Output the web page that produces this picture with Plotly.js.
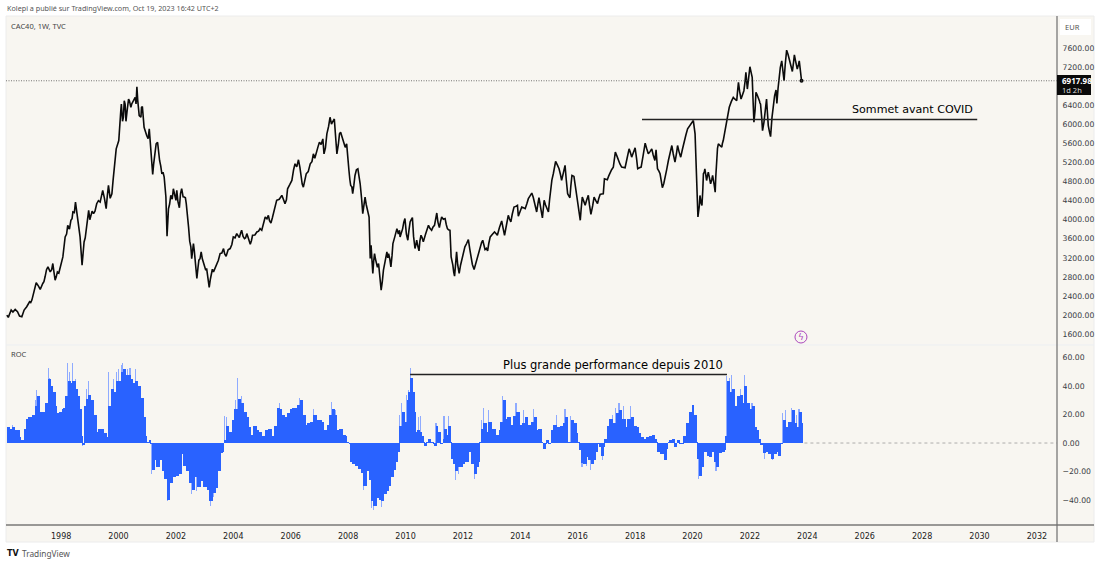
<!DOCTYPE html>
<html>
<head>
<meta charset="utf-8">
<script src="https://cdn.plot.ly/plotly-3.0.1.min.js"></script>
<style>html,body{margin:0;padding:0;background:#fff}#c{width:1100px;height:564px}</style>
</head>
<body>
<div id="c"></div>
<script>
var priceYears = [1996.11,1996.16,1996.26,1996.40,1996.48,1996.55,1996.63,1996.71,1996.80,1996.90,1996.98,1997.06,1997.13,1997.21,1997.27,1997.36,1997.44,1997.54,1997.62,1997.71,1997.79,1997.87,1997.97,1998.06,1998.14,1998.23,1998.34,1998.41,1998.50,1998.58,1998.66,1998.73,1998.80,1998.89,1998.96,1999.03,1999.13,1999.24,1999.36,1999.45,1999.57,1999.65,1999.77,1999.85,1999.92,2000.01,2000.03,2000.08,2000.14,2000.20,2000.26,2000.35,2000.46,2000.58,2000.64,2000.69,2000.78,2000.83,2000.89,2000.98,2001.07,2001.12,2001.19,2001.25,2001.31,2001.36,2001.43,2001.51,2001.59,2001.65,2001.69,2001.74,2001.82,2001.91,2002.00,2002.03,2002.12,2002.20,2002.29,2002.36,2002.44,2002.52,2002.55,2002.61,2002.67,2002.73,2002.80,2002.88,2002.96,2003.04,2003.10,2003.16,2003.23,2003.31,2003.42,2003.54,2003.66,2003.75,2003.89,2004.00,2004.12,2004.21,2004.29,2004.39,2004.47,2004.59,2004.67,2004.82,2004.93,2004.99,2005.11,2005.22,2005.31,2005.40,2005.51,2005.69,2005.80,2005.89,2006.04,2006.15,2006.27,2006.36,2006.44,2006.54,2006.68,2006.79,2006.89,2007.00,2007.12,2007.16,2007.26,2007.37,2007.47,2007.52,2007.61,2007.70,2007.74,2007.84,2007.95,2008.03,2008.09,2008.16,2008.24,2008.34,2008.42,2008.51,2008.59,2008.67,2008.73,2008.77,2008.80,2008.86,2008.92,2008.98,2009.06,2009.15,2009.23,2009.35,2009.41,2009.49,2009.56,2009.70,2009.79,
2009.81,2009.90,2009.98,2010.08,2010.16,2010.24,2010.33,2010.39,2010.47,2010.54,2010.62,2010.80,2010.91,2011.01,2011.09,2011.18,2011.26,2011.38,2011.46,2011.55,2011.59,2011.65,2011.71,2011.78,2011.87,2011.96,2012.07,2012.19,2012.28,2012.39,2012.50,2012.60,2012.69,2012.77,2012.86,2012.95,2013.10,2013.20,2013.35,2013.45,2013.58,2013.67,2013.78,2013.90,2013.93,2014.05,2014.17,2014.28,2014.40,2014.49,2014.57,2014.65,2014.77,2014.83,2014.92,2014.98,2015.06,2015.15,2015.23,2015.35,2015.44,2015.56,2015.65,2015.73,2015.80,2015.87,2015.97,2016.05,2016.09,2016.16,2016.26,2016.37,2016.46,2016.57,2016.69,2016.78,2016.89,2016.93,2017.03,2017.13,2017.24,2017.31,2017.42,2017.53,2017.65,2017.79,2017.88,2018.00,2018.09,2018.21,2018.35,2018.46,2018.58,2018.69,2018.73,2018.78,2018.87,2018.95,2019.04,2019.16,2019.28,2019.39,2019.48,2019.59,2019.71,2019.83,2019.91,2020.03,2020.09,
2020.14,2020.19,2020.26,2020.33,2020.38,2020.43,2020.49,2020.55,2020.63,2020.70,2020.79,2020.84,2020.90,2021.02,2021.07,2021.17,2021.28,2021.42,2021.54,2021.60,2021.69,2021.79,2021.86,2021.91,2022.00,2022.08,2022.14,2022.21,2022.27,2022.33,2022.37,2022.44,2022.53,2022.58,2022.64,2022.72,2022.82,2022.91,2022.94,2023.02,2023.11,2023.19,2023.28,2023.37,2023.48,2023.55,2023.65,2023.72,2023.80];
var priceValues = [1998,1949,2103,2117,2068,1977,1963,2103,2172,2277,2312,2521,2675,2605,2535,2661,2801,3010,2905,3080,2731,2905,3010,3219,3638,3882,3987,4162,4371,4057,3638,3045,3533,3848,4197,4057,4127,4336,4371,4615,4231,4720,4546,5034,5488,5662,5942,6291,6067,6500,6067,6535,6430,6570,6793,6256,6151,6374,5942,5767,5907,5523,4950,5313,5593,5627,5244,4964,4895,4476,3652,4231,4511,4650,4406,4615,4252,4650,4476,4336,3848,3429,3184,3499,3080,2766,3150,3324,3080,2940,2801,2577,2835,2905,3080,3289,3394,3233,3394,3638,3708,3624,3778,3603,3708,3485,3673,3743,3813,3778,4057,4092,3931,4127,4406,4511,4336,4650,4825,5174,5258,4895,4685,4964,5174,5383,5418,5627,5697,5383,5802,6151,6081,6116,5383,5802,5837,5627,5593,5034,4720,4546,4929,5069,4755,4127,4476,4231,4057,3184,3464,2870,3289,3080,3080,2521,2940,3324,3289,3010,3499,3813,3778,
3639,3813,4023,3569,3953,4044,3395,3569,3346,3674,3534,3883,3778,3883,4141,3834,4058,4023,3813,3778,3220,3046,2815,3325,2871,3150,3429,3583,3185,2955,3185,3464,3569,3374,3346,3639,3744,3674,3974,3674,4093,3953,4267,4302,4072,4267,4232,4442,4560,4372,4162,4462,4037,4407,4232,4162,4686,4965,5223,5070,4825,5140,4546,4462,4930,4909,4476,4058,3988,4476,4302,4511,4113,4476,4337,4532,4546,4860,4839,5000,5105,5419,5244,5105,5091,5489,5314,5509,5070,5105,5607,5384,5489,5244,5468,5070,4965,4672,4860,5244,5558,5209,5558,5314,5663,5907,5977,6082,5803,
4964,4057,4510,4301,4964,5069,4824,5000,4755,4929,4580,5383,5592,5522,5662,6011,6360,6569,6500,6883,6534,6709,7093,6744,7212,6988,6046,6674,6604,6500,6430,5871,6255,6534,5976,5746,6500,6723,6444,7058,7337,6918,7561,7372,7114,7463,7163,7337,6917.98];

var priceDetailYears = [1996.32,1996.94,1997.10,1997.40,1997.49,1997.58,1997.67,1997.75,1997.83,1997.92,1998.19,1998.29,1998.38,1998.46,1998.84,1999.00,1999.08,1999.18,1999.30,1999.40,1999.51,1999.61,1999.71,1999.81,2000.05,2000.10,2000.17,2000.23,2000.30,2000.38,2000.43,2000.52,2000.61,2000.67,2000.72,2000.80,2001.03,2001.15,2001.22,2001.39,2001.47,2001.55,2001.78,2001.87,2001.95,2002.07,2002.16,2002.25,2002.33,2002.40,2002.48,2002.58,2002.64,2002.70,2002.77,2002.84,2002.92,2003.00,2003.07,2003.13,2003.20,2003.27,2003.36,2003.48,2003.60,2003.70,2003.82,2003.95,2004.06,2004.17,2004.25,2004.34,2004.43,2004.53,2004.63,2004.75,2004.88,2005.05,2005.17,2005.26,2005.36,2005.46,2005.60,2005.75,2005.85,2005.97,2006.10,2006.21,2006.32,2006.40,2006.49,2006.61,2006.74,2006.84,2006.95,2007.06,2007.21,2007.32,2007.42,2007.57,2007.66,2007.79,2007.90,2007.99,2008.06,2008.13,2008.20,2008.29,2008.38,2008.47,2008.55,2008.63,2008.70,2008.83,2008.89,2008.95,2009.02,2009.10,2009.19,2009.29,2009.38,2009.45,2009.53,2009.63,2009.75,
2009.94,2010.03,2010.12,2010.20,2010.28,2010.36,2010.43,2010.50,2010.58,2010.70,2010.75,2010.85,2010.96,2011.05,2011.13,2011.22,2011.32,2011.42,2011.50,2011.62,2011.68,2011.75,2011.82,2011.92,2012.01,2012.13,2012.24,2012.33,2012.44,2012.55,2012.65,2012.73,2012.82,2012.90,2013.02,2013.15,2013.27,2013.40,2013.52,2013.62,2013.72,2013.84,2013.98,2014.11,2014.23,2014.34,2014.45,2014.53,2014.61,2014.71,2014.80,2014.88,2015.02,2015.10,2015.19,2015.29,2015.40,2015.50,2015.60,2015.69,2015.76,2015.84,2015.92,2016.01,2016.12,2016.21,2016.31,2016.41,2016.52,2016.63,2016.73,2016.83,2016.99,2017.08,2017.18,2017.28,2017.37,2017.47,2017.59,2017.72,2017.84,2017.94,2018.05,2018.15,2018.28,2018.40,2018.52,2018.63,2018.83,2018.91,2019.00,2019.10,2019.22,2019.33,2019.44,2019.53,2019.65,2019.77,2019.87,2019.97,
2020.24,2020.30,2020.36,2020.41,2020.46,2020.52,2020.59,2020.67,2020.75,2020.81,2020.87,2020.96,2021.04,2021.12,2021.22,2021.35,2021.48,2021.57,2021.64,2021.74,2021.83,2021.95,2022.04,2022.11,2022.18,2022.24,2022.30,2022.35,2022.41,2022.49,2022.56,2022.61,2022.68,2022.77,2022.86,2022.98,2023.06,2023.15,2023.23,2023.33,2023.43,2023.52,2023.60,2023.69,2023.76];
var priceDetailValues = [2060,2260,2560,2700,2950,2960,2950,2900,2800,2880,3700,3800,4020,4150,3620,4000,4180,4180,4400,4480,4450,4500,4450,4820,6151,6430,6151,6430,6291,6500,6360,6500,6430,6500,6186,6360,5700,5300,5150,5380,5130,5000,4330,4430,4520,4380,4550,4480,4460,4140,3550,3350,3350,2900,3000,3180,3180,3020,2980,2650,2750,2960,2970,3150,3300,3280,3370,3480,3620,3640,3710,3650,3620,3600,3560,3680,3760,3900,4020,3980,4040,4260,4430,4420,4420,4740,5050,5110,5100,4750,4830,5010,5220,5290,5530,5580,5510,5960,6010,5700,5580,5730,5520,5380,4850,4690,4720,5050,4910,4440,4300,4320,4160,3150,3130,3180,3000,2800,2700,3130,3200,3180,3250,3650,3700,
3950,3700,3780,4000,3650,3470,3440,3550,3620,3700,3800,3820,3850,4010,3950,3960,4010,3900,3790,3150,2900,3100,3050,3050,3290,3500,3380,3060,3070,3320,3520,3470,3400,3500,3690,3710,3830,3820,3900,4020,4120,4280,4170,4250,4340,4500,4470,4260,4320,4250,4220,4310,4420,4830,5100,5150,4950,4980,4850,4500,4700,4920,4700,4250,4220,4390,4410,4310,4290,4400,4440,4540,4850,4920,5050,5260,5330,5170,5100,5290,5400,5410,5290,5090,5350,5500,5430,5360,5020,4820,4760,5050,5400,5380,5380,5430,5480,5780,5940,6030,
4300,4350,4640,5000,4950,4920,4880,4840,4750,4900,5500,5550,5600,5830,6180,6480,6530,6700,6700,6620,6900,7000,7100,6500,6300,6640,6550,6450,6150,6050,6400,6250,5850,6150,6600,6750,7200,7130,7250,7470,7250,7300,7310,7250,7130];

var rocYears = [1996.11,1996.19,1996.28,1996.36,1996.46,1996.53,1996.59,1996.69,1996.77,1996.86,1996.98,1997.09,1997.15,1997.25,1997.33,1997.38,1997.44,1997.54,1997.62,1997.71,1997.79,1997.85,1997.94,1998.02,1998.08,1998.14,1998.23,1998.31,1998.39,1998.49,1998.57,1998.64,1998.71,1998.74,1998.80,1998.87,1998.95,1999.03,1999.13,1999.22,1999.30,1999.39,1999.48,1999.57,1999.63,1999.73,1999.82,1999.92,2000.00,2000.08,2000.15,2000.23,2000.31,2000.40,2000.47,2000.58,2000.66,2000.75,2000.85,2000.93,2000.98,2001.07,2001.10,2001.16,2001.24,2001.31,2001.43,2001.51,2001.59,2001.68,2001.77,2001.87,2001.97,2002.09,2002.18,2002.26,2002.36,2002.46,2002.55,2002.65,2002.73,2002.84,2002.96,2003.08,2003.17,2003.27,2003.37,2003.45,2003.54,2003.61,2003.66,2003.75,2003.84,2003.95,2004.04,2004.16,2004.26,2004.35,2004.45,2004.53,2004.61,2004.70,2004.79,2004.88,2004.99,2005.11,2005.22,2005.31,2005.40,2005.51,2005.60,2005.69,2005.77,2005.86,2005.96,2006.04,2006.15,2006.23,2006.32,2006.40,2006.50,2006.58,2006.68,2006.79,2006.89,2006.97,2007.06,2007.14,2007.26,2007.35,2007.43,2007.51,2007.61,2007.70,2007.81,2007.90,2007.95,2008.02,2008.07,2008.15,2008.24,2008.36,2008.44,2008.53,2008.63,2008.71,2008.79,2008.88,2008.98,2009.06,2009.15,2009.23,2009.32,2009.41,2009.49,2009.58,2009.66,2009.72,2009.77,2009.87,2009.95,2010.04,2010.10,
2010.16,2010.24,2010.30,2010.36,2010.41,2010.48,2010.56,2010.62,2010.65,2010.72,2010.80,2010.88,2010.97,2011.01,2011.06,2011.12,2011.20,2011.30,2011.34,2011.41,2011.49,2011.55,2011.59,2011.67,2011.73,2011.81,2011.90,2011.98,2012.07,2012.19,2012.27,2012.39,2012.48,2012.55,2012.57,2012.62,2012.71,2012.81,2012.89,2012.98,2013.12,2013.24,2013.29,2013.38,2013.47,2013.55,2013.64,2013.74,2013.85,2013.96,2014.05,2014.17,2014.26,2014.36,2014.46,2014.55,2014.63,2014.72,2014.78,2014.86,2014.90,2014.98,2015.06,2015.15,2015.27,2015.38,2015.48,2015.56,2015.65,2015.76,2015.85,2015.94,2016.00,2016.05,2016.10,2016.20,2016.29,2016.37,2016.46,2016.55,2016.63,2016.69,2016.74,2016.82,2016.89,2016.92,2017.01,2017.10,2017.21,2017.32,2017.44,2017.53,2017.65,2017.73,2017.85,2017.94,2018.03,2018.13,2018.20,2018.29,2018.38,2018.49,2018.58,2018.66,2018.73,2018.78,2018.87,2019.01,2019.08,2019.14,2019.19,2019.28,2019.36,2019.45,2019.54,2019.60,2019.68,2019.77,2019.89,2019.97,2020.05,2020.12,2020.17,2020.22,2020.30,2020.38,2020.50,2020.59,2020.67,2020.76,2020.82,2020.90,2021.02,2021.11,2021.14,2021.19,2021.28,2021.37,2021.46,2021.56,2021.66,2021.75,2021.81,2021.89,2021.98,2022.07,2022.16,2022.24,2022.31,2022.35,2022.45,2022.53,2022.62,2022.73,2022.82,2022.91,2022.99,2023.05,2023.14,2023.24,2023.34,2023.46,2023.55,2023.63,2023.71,2023.80];
var rocValues = [11,10,11,9,9,4,2,10,17,18,20,26,33,22,22,22,28,45,40,36,26,21,22,24,25,33,44,42,44,38,33,24,5,-1.5,26,31,34,30,20,8,10,10,7,4,26,38,36,44,44,50,52,48,48,45,42,44,40,32,18,5,1,2,-1,-19,-12,-17,-12,-20,-25,-40,-28,-24,-23,-22,-8,-16,-20,-28,-33,-24,-31,-27,-31,-33,-41,-35,-32,-20,-7,-6,2,12,8,16,24,31,28,22,18,11,6,12,9,8,5,9,10,5,12,25,24,20,18,21,24,25,25,27,30,20,13,14,15,20,16,16,15,9,13,20,24,20,9,10,6,5,1,-0.5,-13,-15,-16,-18,-21,-30,-20,-26,-41,-44,-39,-40,-41,-36,-34,-30,-24,-19,-13,-6,12,22,15,30,36,
46,36,22,8,9,8,5,1,-2,0.5,3,1,-0.5,-2,12,8,-1,3,10,6,12,0.5,-11,-15,-20,-17,-17,-15,-13,-6,-15,-22,-17,-13,1,10,14,8,15,10,6,9,15,30,17,18,13,19,22,13,14,18,13,15,18,9,10,0.5,-4,-1,2,-0.5,9,13,11,12,14,18,1,16,14,7,0.5,-5,-14,-15,-10,-12,-15,-12,-6,-0.5,-3,-9,-3,3,12,17,14,21,23,17,11,17,18,12,11,7,4,3,4,5,6,3,0.5,-6,-8,-12,-4,0.5,2,3,-3,2,-0.5,-1,5,14,22,27,20,1,-11,-23,-17,-6,-9,-10,-6,-13,-17,-7,-6,-5,5,44,36,38,26,33,34,28,40,28,24,26,11,9,3,-1.5,-7,-6,-8,-11,-8,-6,-9,-0.5,16,11,15,23,14,11,22,14];

var spikeYears = [1996.30,1997.10,1997.15,1997.55,1997.60,1998.23,1998.30,1998.39,1998.49,1998.75,1998.87,1998.95,1999.66,1999.82,1999.92,2000.00,2000.10,2000.15,2000.30,2000.40,2000.58,2001.16,2001.70,2002.55,2002.73,2003.20,2003.30,2003.68,2003.75,2004.08,2004.16,2004.30,2005.60,2006.30,2006.80,2007.43,2007.55,2008.53,2008.80,2008.88,2009.15,2009.80,2009.87,2009.95,2010.04,2010.10,2010.16,2010.45,2010.52,2011.06,2011.34,2011.49,2011.73,2011.85,2012.41,2012.65,2012.71,2012.89,2013.38,2013.85,2014.10,2014.46,2015.25,2015.56,2015.76,2016.15,2016.30,2016.46,2016.85,2017.21,2017.32,2017.44,2017.60,2017.85,2020.22,2020.82,2021.19,2021.30,2021.37,2021.66,2021.81,2022.07,2022.16,2022.52,2022.78,2023.14,2023.24,2023.46,2023.63,2023.71];
var spikeValues = [13,30,37,53,46,56,50,56,45,-2,38,44,50,45,50,52,55,56,52,53,52,-22,-41,-36,-34,-44,-38,19,18,30,46,33,28,32,24,29,23,-33,-46,-47,-45,20,28,22,34,37,53,18,19,14,19,19,-26,-22,-25,16,25,23,33,28,23,24,20,24,19,-17,-16,-19,-12,20,25,28,26,26,-25,-20,47,46,48,38,48,28,13,-11,-12,21,23,25,20,24];

var lastPrice = 6917.98;
var covidLevel = 6103;
var covidYears = [2018.24, 2029.92];
var perfLevel = 48.2;
var perfYears = [2010.16, 2021.2];
var flagYear = 2023.78;
var flagPrice = 1537;
var priceTicks = [1600,2000,2400,2800,3200,3600,4000,4400,4800,5200,5600,6000,6400,7200,7600];
var rocTicks = [-40,-20,0,20,40,60];
var xRange = [1996.08, 2032.7];

function d(y){
  var yr = Math.floor(y), s = Date.UTC(yr,0,1), e = Date.UTC(yr+1,0,1);
  return new Date(s + (y-yr)*(e-s)).toISOString();
}
var YEAR_MS = 31557600000;
function ds(a){ return a.map(d); }
function px(x){ return (x-6)/1051; }
function py(y){ return (525-y)/509; }
var FONT = '"DejaVu Sans", sans-serif';
var SMALL = '"Noto Sans", sans-serif';
var TXT = '#3a3d45';

var merged = priceYears.map(function(y,i){return [y,priceValues[i]];})
  .concat(priceDetailYears.map(function(y,i){return [y,priceDetailValues[i]];}))
  .sort(function(a,b){return a[0]-b[0];});
var lineX = merged.map(function(p){return d(p[0]);});
var lineY = merged.map(function(p){return p[1];});

// each histogram bar runs slightly past the next reading, so the area has no seams
var rocWidths = rocYears.map(function(y,i){
  var next = i+1<rocYears.length ? rocYears[i+1] : y+0.02;
  return (next-y+0.02)*YEAR_MS;
});
var rocOffsets = rocYears.map(function(){return 0;});

var traces = [
 {type:'bar', x:ds(spikeYears), y:spikeValues, width:0.04*YEAR_MS, xaxis:'x', yaxis:'y2', marker:{color:'#8fabff',line:{width:0}}, hoverinfo:'skip'},
 {type:'bar', x:ds(rocYears), y:rocValues, width:rocWidths, offset:rocOffsets, xaxis:'x', yaxis:'y2', marker:{color:'#2962ff',line:{width:0}}, hoverinfo:'skip'},
 {type:'scatter', mode:'lines', x:lineX, y:lineY, xaxis:'x', yaxis:'y', line:{color:'#0b0b0b',width:1.6}, hoverinfo:'skip'},
 {type:'scatter', mode:'markers', x:[d(priceYears[priceYears.length-1])], y:[lastPrice], xaxis:'x', yaxis:'y', marker:{color:'#0b0b0b',size:4}, hoverinfo:'skip'},
 {type:'scatter', mode:'lines', x:ds(covidYears), y:[covidLevel,covidLevel], xaxis:'x', yaxis:'y', line:{color:'#222',width:1.5}, hoverinfo:'skip'},
 {type:'scatter', mode:'lines', x:ds(perfYears), y:[perfLevel,perfLevel], xaxis:'x', yaxis:'y2', line:{color:'#222',width:1.5}, hoverinfo:'skip'},
 {type:'scatter', mode:'lines', x:[d(xRange[0]),d(xRange[1])], y:[lastPrice,lastPrice], xaxis:'x', yaxis:'y', line:{color:'#555',width:0.8,dash:'1px,1.5px'}, hoverinfo:'skip'},
 {type:'scatter', mode:'lines', x:[d(2023.9),d(xRange[1])], y:[0,0], xaxis:'x', yaxis:'y2', line:{color:'#9a9a9a',width:0.8,dash:'3px,3px'}, hoverinfo:'skip'},
 {type:'scatter', mode:'markers', x:[d(flagYear)], y:[flagPrice], xaxis:'x', yaxis:'y', marker:{color:'rgba(0,0,0,0)',size:12,line:{color:'#ab47bc',width:1}}, hoverinfo:'skip'}
];

function note(x,y,text,size,color,anchor,family){
  return {xref:'paper',yref:'paper',x:px(x),y:py(y),text:text,showarrow:false,xanchor:anchor||'left',yanchor:'middle',
    font:{family:family||FONT,size:size,color:color||TXT},borderpad:0};
}
var annotations = [
 note(6,8,'Kolepi a publié sur TradingView.com, Oct 19, 2023 16:42 UTC+2',7.2,'#555','left',SMALL),
 note(10,26,'CAC40, 1W, TVC',7.5,'#444','left',SMALL),
 note(10,354,'ROC',7.5,'#444','left',SMALL),
 note(912.5,109.5,'Sommet avant COVID',11.1,'#000','center'),
 note(613,365.5,'Plus grande performance depuis 2010',11.5,'#000','center'),
 note(801,337,'ϟ',9,'#ab47bc','center'),
 note(1064,27.5,'EUR',7.5,'#555','left',SMALL),
 note(1061,80.5,'<b>6917.98</b>',8,'#fff','left',SMALL),
 note(1061,89.5,'1d 2h',7.5,'#ddd','left',SMALL),
 note(6,553.5,'<b>TV</b>',8,'#111'),
 note(21,553.5,'TradingView',8.3,'#555','left',SMALL)
];
function rect(x0,y0,x1,y1,fill,layer,line){
  return {type:'rect',xref:'paper',yref:'paper',x0:px(x0),x1:px(x1),y0:py(y0),y1:py(y1),fillcolor:fill,layer:layer||'above',line:line||{width:0}};
}
function seg(x0,y0,x1,y1,color,w){
  return {type:'line',xref:'paper',yref:'paper',x0:px(x0),x1:px(x1),y0:py(y0),y1:py(y1),layer:'above',line:{color:color,width:w}};
}
var shapes = [
 rect(6,16,1094,542,'#f8f6f1','below',{color:'#ececec',width:1}),
 seg(6,345,1094,345,'#eceff2',1),
 seg(6,525,1094,525,'#3a3a3a',1),
 seg(1057,16,1057,542,'#6e6e6e',1.2),
 rect(1060,19,1091,35,'#ffffff','above'),
 rect(1057,75,1091,95,'#0a0a0a','above')
];

var tickFont = {family:FONT,size:7.7,color:TXT};
var layout = {
  width:1100, height:564,
  margin:{l:6,r:43,t:16,b:39,pad:0},
  paper_bgcolor:'#ffffff', plot_bgcolor:'rgba(0,0,0,0)',
  showlegend:false, barmode:'overlay', bargap:0,
  xaxis:{type:'date',range:[d(xRange[0]),d(xRange[1])],domain:[0,1],anchor:'y2',tick0:'1998-01-01',dtick:'M24',tickformat:'%Y',
    showgrid:false,zeroline:false,showline:false,ticks:'outside',ticklen:3,tickcolor:'rgba(0,0,0,0)',tickfont:{family:FONT,size:8,color:'#222'},fixedrange:true},
  yaxis:{domain:[py(345),1],range:[1369,8278],anchor:'x',side:'right',tickmode:'array',tickvals:priceTicks,tickformat:'.2f',
    showgrid:false,zeroline:false,showline:false,ticks:'outside',ticklen:3,tickcolor:'rgba(0,0,0,0)',tickfont:tickFont,fixedrange:true},
  yaxis2:{domain:[0,py(345)],range:[-57.7,69],anchor:'x',side:'right',tickmode:'array',tickvals:rocTicks,tickformat:'.2f',
    showgrid:false,zeroline:false,showline:false,ticks:'outside',ticklen:3,tickcolor:'rgba(0,0,0,0)',tickfont:tickFont,fixedrange:true},
  annotations:annotations, shapes:shapes
};
Plotly.newPlot('c',traces,layout,{displayModeBar:false,staticPlot:true});
</script>
</body>
</html>
